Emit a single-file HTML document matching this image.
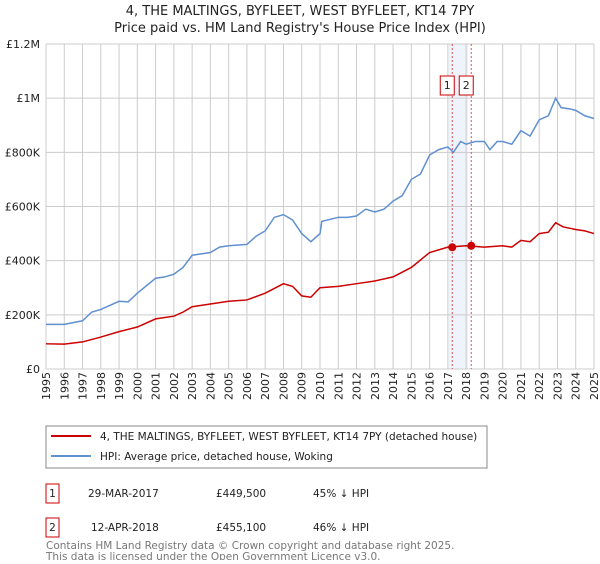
<!DOCTYPE html>
<html><head><meta charset="utf-8"><style>
body{margin:0;background:#fff;font-family:"DejaVu Sans","Liberation Sans",sans-serif;}
svg text{font-family:"DejaVu Sans","Liberation Sans",sans-serif;}
</style></head><body>
<svg id="c" width="600" height="560" xmlns="http://www.w3.org/2000/svg">
<text x="300" y="15" text-anchor="middle" font-size="13" fill="#222">4, THE MALTINGS, BYFLEET, WEST BYFLEET, KT14 7PY</text>
<text x="300" y="32" text-anchor="middle" font-size="13" fill="#222">Price paid vs. HM Land Registry's House Price Index (HPI)</text>
<g id="grid"></g>
<g id="marks"></g>
<g id="axes"></g>
<g>
<rect x="46" y="426" width="441" height="42" fill="#fff" stroke="#888"/>
<line x1="51" y1="436" x2="91" y2="436" stroke="#cc0000" stroke-width="2"/>
<text x="100" y="440" font-size="10.5" fill="#222">4, THE MALTINGS, BYFLEET, WEST BYFLEET, KT14 7PY (detached house)</text>
<line x1="51" y1="456" x2="91" y2="456" stroke="#6090d0" stroke-width="2"/>
<text x="100" y="460" font-size="10.5" fill="#222">HPI: Average price, detached house, Woking</text>
</g>
<g>
<rect x="46" y="484" width="13" height="19" fill="#fff" stroke="#cc0000"/>
<text x="52.5" y="497" text-anchor="middle" font-size="10.5" fill="#222">1</text>
<text x="88" y="497" font-size="10.5" fill="#222">29-MAR-2017</text>
<text x="216" y="497" font-size="10.5" fill="#222">£449,500</text>
<text x="313" y="497" font-size="10.5" fill="#222">45% ↓ HPI</text>
<rect x="46" y="518" width="13" height="19" fill="#fff" stroke="#cc0000"/>
<text x="52.5" y="531" text-anchor="middle" font-size="10.5" fill="#222">2</text>
<text x="91" y="531" font-size="10.5" fill="#222">12-APR-2018</text>
<text x="216" y="531" font-size="10.5" fill="#222">£455,100</text>
<text x="313" y="531" font-size="10.5" fill="#222">46% ↓ HPI</text>
</g>
<text x="46" y="549" font-size="10.5" fill="#777">Contains HM Land Registry data © Crown copyright and database right 2025.</text>
<text x="46" y="560" font-size="10.5" fill="#777">This data is licensed under the Open Government Licence v3.0.</text>
</svg>
<script>
const hpiYears=[1995,1996,1997,1997.5,1998,1999,1999.5,2000,2001,2001.5,2002,2002.5,2003,2004,2004.5,2005,2006,2006.5,2007,2007.5,2008,2008.5,2009,2009.5,2010,2010.1,2011,2011.5,2012,2012.5,2013,2013.5,2014,2014.5,2015,2015.5,2016,2016.5,2017,2017.3,2017.7,2018,2018.5,2019,2019.3,2019.7,2020,2020.5,2021,2021.5,2022,2022.5,2022.9,2023.2,2023.7,2024,2024.5,2025];
const hpiValues=[165,165,178,210,220,250,248,280,335,340,350,375,420,430,450,455,460,490,510,560,570,550,500,470,500,545,560,560,565,590,580,590,620,640,700,720,790,810,820,800,840,830,840,840,810,840,840,830,880,860,920,935,1000,965,960,955,935,925];
const ppYears=[1995,1996,1997,1998,1999,2000,2001,2002,2002.5,2003,2004,2005,2006,2007,2008,2008.5,2009,2009.5,2010,2011,2012,2013,2014,2015,2016,2017,2018,2019,2020,2020.5,2021,2021.5,2022,2022.5,2022.9,2023.3,2024,2024.5,2025];
const ppValues=[93,92,100,118,138,155,185,195,210,230,240,250,255,280,315,305,270,265,300,305,315,325,340,375,430,450,455,450,455,450,475,470,500,505,540,525,515,510,500];
const saleYears=[2017.24,2018.28];
const saleValues=[449.5,455.1];
const saleLabels=["1","2"];
const yTicks=[0,200,400,600,800,1000,1200];
const yTickLabels=["£0","£200K","£400K","£600K","£800K","£1M","£1.2M"];
const xTicks=[1995,1996,1997,1998,1999,2000,2001,2002,2003,2004,2005,2006,2007,2008,2009,2010,2011,2012,2013,2014,2015,2016,2017,2018,2019,2020,2021,2022,2023,2024,2025];

const X0=46,X1=594,Y0=369,Y1=44;
const sx=y=>X0+(y-1995)/30*(X1-X0);
const sy=v=>Y0-v/1200*(Y0-Y1);
const NS="http://www.w3.org/2000/svg";
function mk(parent,tag,attrs){const e=document.createElementNS(NS,tag);for(const k in attrs)e.setAttribute(k,attrs[k]);document.getElementById(parent).appendChild(e);return e;}

let band=mk('grid','rect',{x:sx(2017.05),y:Y1,width:sx(2018.1)-sx(2017.05),height:Y0-Y1,fill:'#eef3fc'});


xTicks.forEach(t=>{const l=mk('grid','line',{x1:sx(t),x2:sx(t),y1:Y1,y2:Y0,stroke:'#ccc','stroke-width':1});


const tx=mk('axes','text',{x:0,y:0,transform:`translate(${sx(t)+4},${Y0+3}) rotate(-90)`,'text-anchor':'end','font-size':11,fill:'#222'});
tx.textContent=t;

});
yTicks.forEach((t,i)=>{const l=mk('grid','line',{x1:X0,x2:X1,y1:sy(t),y2:sy(t),stroke:'#ccc','stroke-width':1});


const tx=mk('axes','text',{x:X0-6,y:sy(t)+4,'text-anchor':'end','font-size':11,fill:'#222'});
tx.textContent=yTickLabels[i];

});
saleYears.forEach((s,i)=>{const l=mk('grid','line',{x1:sx(s),x2:sx(s),y1:Y1,y2:Y0,stroke:'#e05050','stroke-width':1,'stroke-dasharray':'2,2'});

});
const hp=mk('marks','polyline',{points:hpiYears.map((y,i)=>sx(y)+','+sy(hpiValues[i])).join(' '),fill:'none',stroke:'#6090d0','stroke-width':1.5});


const pp=mk('marks','polyline',{points:ppYears.map((y,i)=>sx(y)+','+sy(ppValues[i])).join(' '),fill:'none',stroke:'#cc0000','stroke-width':1.5});


saleYears.forEach((s,i)=>{const d=mk('marks','circle',{cx:sx(s),cy:sy(saleValues[i]),r:4,fill:'#cc0000'});


const bx=sx(s)-12;
const r=mk('marks','rect',{x:bx,y:76,width:14,height:19,fill:'#fff',stroke:'#cc0000'});


const t=mk('marks','text',{x:bx+7,y:89,'text-anchor':'middle','font-size':11,fill:'#222'});
t.textContent=saleLabels[i];

});
</script>
</body></html>
